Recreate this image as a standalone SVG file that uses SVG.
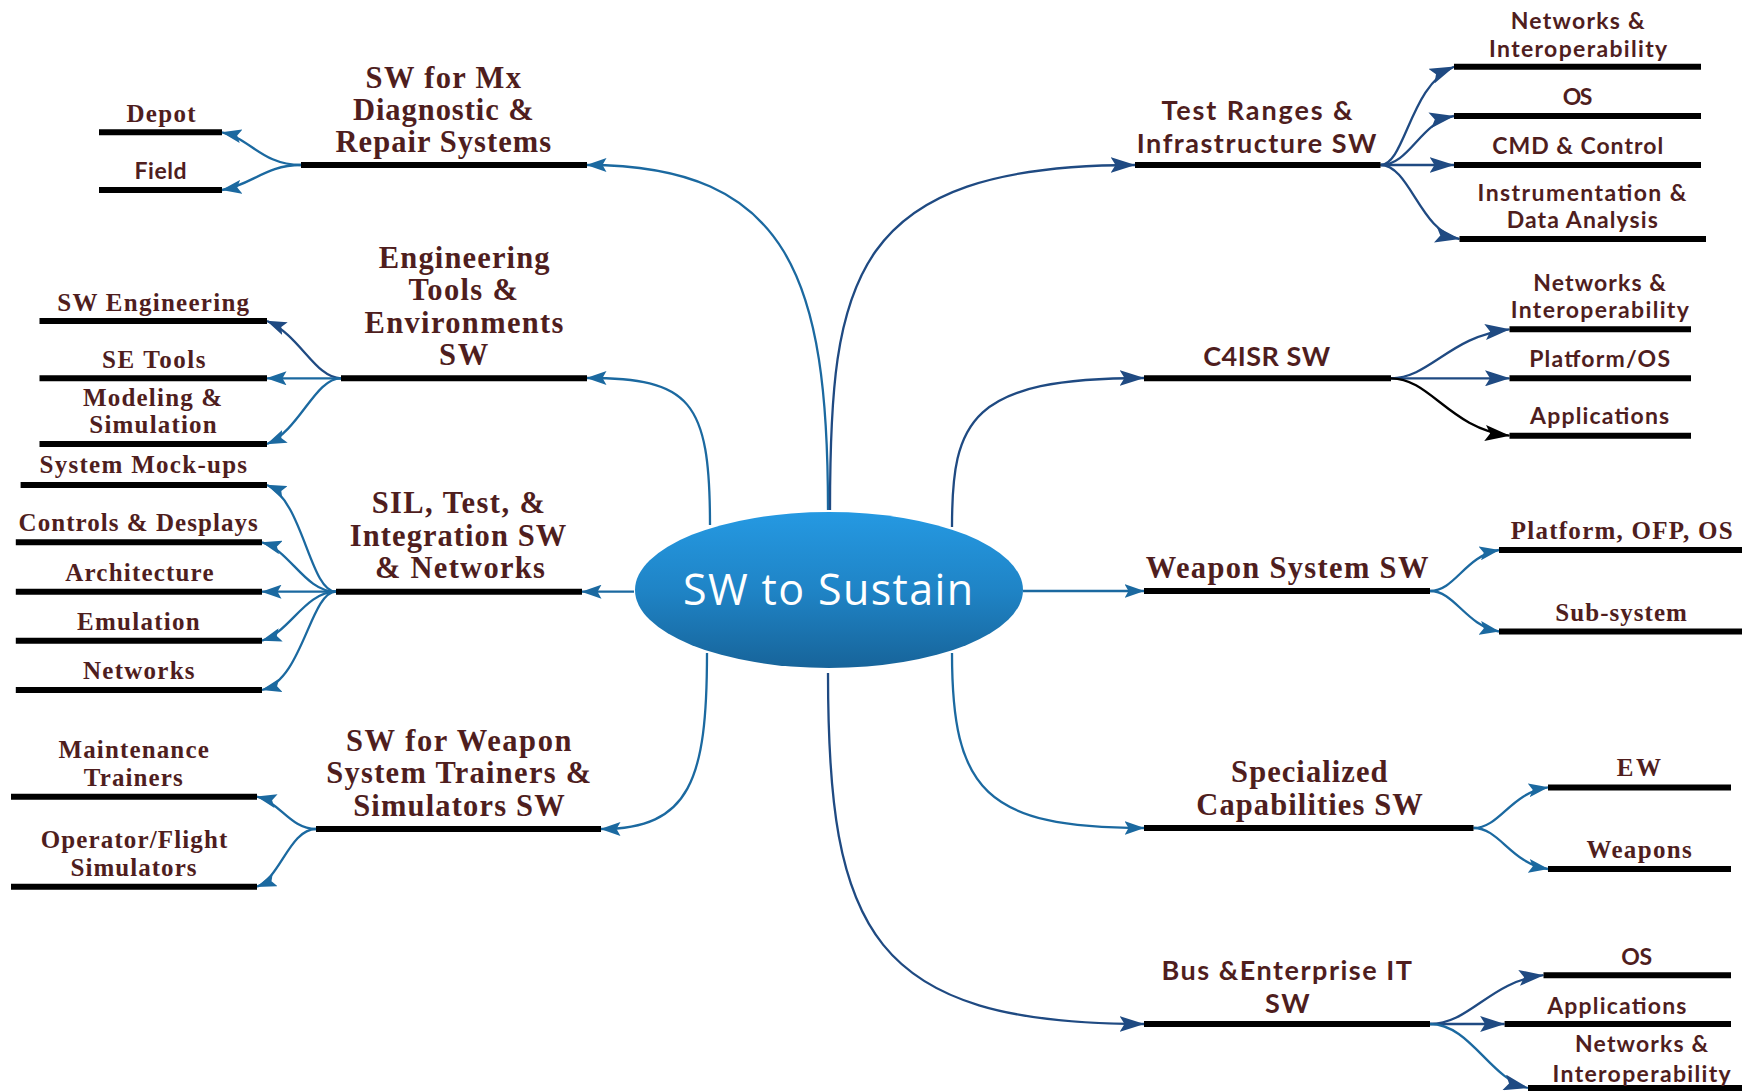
<svg xmlns="http://www.w3.org/2000/svg" width="1742" height="1091" viewBox="0 0 1742 1091">
<defs>
<linearGradient id="gEll" x1="0" y1="0" x2="0" y2="1">
<stop offset="0" stop-color="#2599e2"/>
<stop offset="0.5" stop-color="#1f84c6"/>
<stop offset="1" stop-color="#17649a"/>
</linearGradient>
<marker id="aS" viewBox="0 0 20 14" refX="19.5" refY="7" markerWidth="20" markerHeight="14" markerUnits="userSpaceOnUse" orient="auto"><path d="M0,0 L20,7 L0,14 L4,7 z" fill="#1b69a0"/></marker>
<marker id="aN" viewBox="0 0 25 16" refX="24.5" refY="8" markerWidth="25" markerHeight="16" markerUnits="userSpaceOnUse" orient="auto"><path d="M0,0 L25,8 L0,16 L5,8 z" fill="#1f4a82"/></marker>
<marker id="aNs" viewBox="0 0 20 14" refX="19.5" refY="7" markerWidth="20" markerHeight="14" markerUnits="userSpaceOnUse" orient="auto"><path d="M0,0 L20,7 L0,14 L4,7 z" fill="#1f4a82"/></marker>
<marker id="aK" viewBox="0 0 25 16" refX="24.5" refY="8" markerWidth="25" markerHeight="16" markerUnits="userSpaceOnUse" orient="auto"><path d="M0,0 L25,8 L0,16 L5,8 z" fill="#000"/></marker>
</defs>
<style>
.bar{stroke:#000;stroke-width:6;fill:none}
.ser{font-family:"Liberation Serif","Times New Roman",serif;font-weight:bold;fill:#4f1e1e;text-anchor:middle}
.san{font-family:Lato,"Liberation Sans",sans-serif;font-weight:bold;fill:#4f1e1e;text-anchor:middle}
.h{font-size:30.5px}
.s{font-size:25px}
.hs{font-size:27px}
.ss{font-size:23px}
.cs{fill:none;stroke:#1b69a0;stroke-width:2.3;marker-end:url(#aS)}
.cn{fill:none;stroke:#1f4a82;stroke-width:2.3;marker-end:url(#aN)}
.cns{fill:none;stroke:#1f4a82;stroke-width:2.3;marker-end:url(#aNs)}
.ck{fill:none;stroke:#000;stroke-width:2.3;marker-end:url(#aK)}
</style>
<rect width="1742" height="1091" fill="#fff"/>

<g id="connectors">
<path class="cs" d="M828,510 C828,280 790,165 587,165"/>
<path class="cn" d="M830,510 C830,280 850,165 1135,165"/>
<path class="cs" d="M710,525 C710,400 690,378 587,378"/>
<path class="cn" d="M952,527 C952,420 970,378 1144,378"/>
<path class="cs" d="M634,591.7 L582,591.7"/>
<path class="cs" d="M1023,591 L1144,591"/>
<path class="cs" d="M707,653 C707,780 690,829 601,829"/>
<path class="cs" d="M952,653 C952,790 985,828 1144,828"/>
<path class="cn" d="M828,673 C828,930 870,1024 1144,1024"/>
<path class="cs" d="M301,165 C262,165 250,138 222,132.3"/>
<path class="cs" d="M301,165 C265,165 252,185 222,190"/>
<path class="cns" d="M341,378.3 C315,378 300,335 267,321"/>
<path class="cs" d="M341,378.3 L267,378.3"/>
<path class="cs" d="M341,378.3 C315,378 300,430 267,444"/>
<path class="cs" d="M336,591.7 C310,592 303,500 267,485"/>
<path class="cs" d="M336,591.7 C305,592 290,550 262,542.3"/>
<path class="cs" d="M336,591.7 L262,591.7"/>
<path class="cs" d="M336,591.7 C305,592 290,632 262,640.7"/>
<path class="cs" d="M336,591.7 C310,592 303,680 262,690"/>
<path class="cs" d="M316,829 C290,829 280,802 257,796.7"/>
<path class="cs" d="M316,829 C290,829 280,878 257,886.7"/>
<path class="cn" d="M1380.5,165 C1405,165 1410,85 1454,66.7"/>
<path class="cn" d="M1380.5,165 C1410,165 1420,122 1454,116"/>
<path class="cn" d="M1380.5,165 L1454,165"/>
<path class="cn" d="M1380.5,165 C1410,165 1420,232 1459.5,239"/>
<path class="cn" d="M1391,378.3 C1430,378 1450,336 1509.5,329.3"/>
<path class="cn" d="M1391,378.3 L1509.5,378.3"/>
<path class="ck" d="M1391,378.3 C1430,378 1450,429 1509.5,435.7"/>
<path class="cs" d="M1430,591 C1455,591 1465,556 1499,550"/>
<path class="cs" d="M1430,591 C1455,591 1465,625 1499,631.5"/>
<path class="cs" d="M1473.5,828 C1500,828 1510,793 1548,787.4"/>
<path class="cs" d="M1473.5,828 C1500,828 1510,863 1548,869"/>
<path class="cn" d="M1430,1024 C1470,1024 1490,981 1543.5,975.2"/>
<path class="cn" d="M1430,1024 L1504.6,1024"/>
<path class="cn" d="M1430,1024 C1470,1024 1490,1079 1528,1088" style="stroke:#1b69a0"/>
</g>

<g id="center">
<ellipse cx="829" cy="590" rx="194" ry="78" fill="url(#gEll)"/>
<text x="828" y="605" textLength="290" style="font-family:'Open Sans','Noto Sans',sans-serif;font-size:43px;fill:#fff;text-anchor:middle">SW to Sustain</text>
</g>

<g id="n-mx">
<line class="bar" x1="301" y1="165" x2="587" y2="165"/>
<text class="ser h" x="443.3" y="88.3" textLength="155.4">SW for Mx</text>
<text class="ser h" x="443.3" y="120" textLength="180.7">Diagnostic &amp;</text>
<text class="ser h" x="443.3" y="151.7" textLength="215.5">Repair Systems</text>
</g>
<g id="n-depot">
<line class="bar" x1="99" y1="132.3" x2="222" y2="132.3"/>
<text class="ser s" x="161" y="121.7" textLength="69.2">Depot</text>
</g>
<g id="n-field">
<line class="bar" x1="99" y1="190" x2="222" y2="190"/>
<text class="san ss" x="160.5" y="179.3" textLength="52.2">Field</text>
</g>

<g id="n-eng">
<line class="bar" x1="341" y1="378.3" x2="587" y2="378.3"/>
<text class="ser h" x="464.2" y="268.3" textLength="170.8">Engineering</text>
<text class="ser h" x="463.2" y="300" textLength="109.5">Tools &amp;</text>
<text class="ser h" x="464" y="332.7" textLength="198.9">Environments</text>
<text class="ser h" x="463.6" y="365" textLength="49.4">SW</text>
</g>
<g id="n-sweng">
<line class="bar" x1="39.5" y1="321" x2="267" y2="321"/>
<text class="ser s" x="153.2" y="310.7" textLength="191.8">SW Engineering</text>
</g>
<g id="n-setools">
<line class="bar" x1="39.5" y1="378.3" x2="267" y2="378.3"/>
<text class="ser s" x="153.8" y="368.3" textLength="103.6">SE Tools</text>
</g>
<g id="n-modsim">
<line class="bar" x1="39.5" y1="444" x2="267" y2="444"/>
<text class="ser s" x="152.6" y="406" textLength="139.2">Modeling &amp;</text>
<text class="ser s" x="153" y="432.7" textLength="127.3">Simulation</text>
</g>

<g id="n-sil">
<line class="bar" x1="336" y1="591.7" x2="582" y2="591.7"/>
<text class="ser h" x="458.3" y="513.3" textLength="173.2">SIL, Test, &amp;</text>
<text class="ser h" x="458" y="546" textLength="216.3">Integration SW</text>
<text class="ser h" x="459.9" y="578.3" textLength="170">&amp; Networks</text>
</g>
<g id="n-mockups">
<line class="bar" x1="20.6" y1="485" x2="267" y2="485"/>
<text class="ser s" x="143.3" y="473.3" textLength="207.6">System Mock-ups</text>
</g>
<g id="n-controls">
<line class="bar" x1="15.8" y1="542.3" x2="262" y2="542.3"/>
<text class="ser s" x="138.2" y="530.7" textLength="239.2">Controls &amp; Desplays</text>
</g>
<g id="n-arch">
<line class="bar" x1="15.8" y1="591.7" x2="262" y2="591.7"/>
<text class="ser s" x="139.4" y="580.7" textLength="148.3">Architecture</text>
</g>
<g id="n-emu">
<line class="bar" x1="15.8" y1="640.7" x2="262" y2="640.7"/>
<text class="ser s" x="138.4" y="630" textLength="122.6">Emulation</text>
</g>
<g id="n-net">
<line class="bar" x1="15.8" y1="690" x2="262" y2="690"/>
<text class="ser s" x="138.8" y="678.7" textLength="111.5">Networks</text>
</g>

<g id="n-trainers">
<line class="bar" x1="316" y1="829" x2="601" y2="829"/>
<text class="ser h" x="458.7" y="750.7" textLength="225.4">SW for Weapon</text>
<text class="ser h" x="458.7" y="783.3" textLength="264.9">System Trainers &amp;</text>
<text class="ser h" x="458.9" y="816" textLength="211.5">Simulators SW</text>
</g>
<g id="n-maint">
<line class="bar" x1="11" y1="796.7" x2="257" y2="796.7"/>
<text class="ser s" x="133.6" y="758.3" textLength="150.3">Maintenance</text>
<text class="ser s" x="133.3" y="786" textLength="98.9">Trainers</text>
</g>
<g id="n-opsim">
<line class="bar" x1="11" y1="886.7" x2="257" y2="886.7"/>
<text class="ser s" x="134" y="848.3" textLength="186.6">Operator/Flight</text>
<text class="ser s" x="133.5" y="876" textLength="126.1">Simulators</text>
</g>

<g id="n-testranges">
<line class="bar" x1="1135" y1="165" x2="1380.5" y2="165"/>
<text class="san hs" x="1257" y="120" textLength="191.2">Test Ranges &amp;</text>
<text class="san hs" x="1256.6" y="152.7" textLength="239.6">Infrastructure SW</text>
</g>
<g id="n-tr-net">
<line class="bar" x1="1454" y1="66.7" x2="1701" y2="66.7"/>
<text class="san ss" x="1577.7" y="29.3" textLength="133.9">Networks &amp;</text>
<text class="san ss" x="1578.1" y="56.7" textLength="178.1">Interoperability</text>
</g>
<g id="n-tr-os">
<line class="bar" x1="1454" y1="116" x2="1701" y2="116"/>
<text class="san ss" x="1577.5" y="105" textLength="29.5">OS</text>
</g>
<g id="n-tr-cmd">
<line class="bar" x1="1454" y1="165" x2="1701" y2="165"/>
<text class="san ss" x="1577.7" y="154" textLength="170.8">CMD &amp; Control</text>
</g>
<g id="n-tr-instr">
<line class="bar" x1="1459.5" y1="239" x2="1706" y2="239"/>
<text class="san ss" x="1582" y="201" textLength="208.8">Instrumentation &amp;</text>
<text class="san ss" x="1582.2" y="227.7" textLength="151.1">Data Analysis</text>
</g>

<g id="n-c4isr">
<line class="bar" x1="1144" y1="378.3" x2="1391" y2="378.3"/>
<text class="san hs" x="1266.7" y="365.7" textLength="126.9">C4ISR SW</text>
</g>
<g id="n-c4-net">
<line class="bar" x1="1509.5" y1="329.3" x2="1691" y2="329.3"/>
<text class="san ss" x="1599.6" y="291" textLength="132.7">Networks &amp;</text>
<text class="san ss" x="1599.8" y="318.3" textLength="178.1">Interoperability</text>
</g>
<g id="n-c4-plat">
<line class="bar" x1="1509.5" y1="378.3" x2="1691" y2="378.3"/>
<text class="san ss" x="1599.6" y="367.3" textLength="140.9">Platform/OS</text>
</g>
<g id="n-c4-apps">
<line class="bar" x1="1509.5" y1="435.7" x2="1691" y2="435.7"/>
<text class="san ss" x="1599.6" y="424.3" textLength="139.2">Applications</text>
</g>

<g id="n-weapon">
<line class="bar" x1="1144" y1="591" x2="1430" y2="591"/>
<text class="ser h" x="1287.1" y="578.1" textLength="282.6">Weapon System SW</text>
</g>
<g id="n-ofp">
<line class="bar" x1="1499" y1="550" x2="1742" y2="550"/>
<text class="ser s" x="1621.7" y="539.4" textLength="222">Platform, OFP, OS</text>
</g>
<g id="n-subsys">
<line class="bar" x1="1499" y1="631.5" x2="1742" y2="631.5"/>
<text class="ser s" x="1621.1" y="621" textLength="131.5">Sub-system</text>
</g>

<g id="n-special">
<line class="bar" x1="1144" y1="828" x2="1473.5" y2="828"/>
<text class="ser h" x="1309.3" y="781.7" textLength="156.4">Specialized</text>
<text class="ser h" x="1309.5" y="814.8" textLength="226.5">Capabilities SW</text>
</g>
<g id="n-ew">
<line class="bar" x1="1548" y1="787.4" x2="1731" y2="787.4"/>
<text class="ser s" x="1638.9" y="776.1" textLength="44.2">EW</text>
</g>
<g id="n-weapons">
<line class="bar" x1="1548" y1="869" x2="1731" y2="869"/>
<text class="ser s" x="1639.1" y="857.6" textLength="105.2">Weapons</text>
</g>

<g id="n-bus">
<line class="bar" x1="1144" y1="1024" x2="1430" y2="1024"/>
<text class="san hs" x="1286.7" y="979.7" textLength="250.6">Bus &amp;Enterprise IT</text>
<text class="san hs" x="1287.3" y="1012.8" textLength="44.6">SW</text>
</g>
<g id="n-bus-os">
<line class="bar" x1="1543.5" y1="975.2" x2="1731" y2="975.2"/>
<text class="san ss" x="1636.7" y="964.7" textLength="30.7">OS</text>
</g>
<g id="n-bus-apps">
<line class="bar" x1="1504.6" y1="1024" x2="1731" y2="1024"/>
<text class="san ss" x="1616.8" y="1013.5" textLength="139.2">Applications</text>
</g>
<g id="n-bus-net">
<line class="bar" x1="1528" y1="1088" x2="1742" y2="1088"/>
<text class="san ss" x="1641.6" y="1051.5" textLength="133.1">Networks &amp;</text>
<text class="san ss" x="1641.6" y="1081.5" textLength="178.1">Interoperability</text>
</g>
</svg>
